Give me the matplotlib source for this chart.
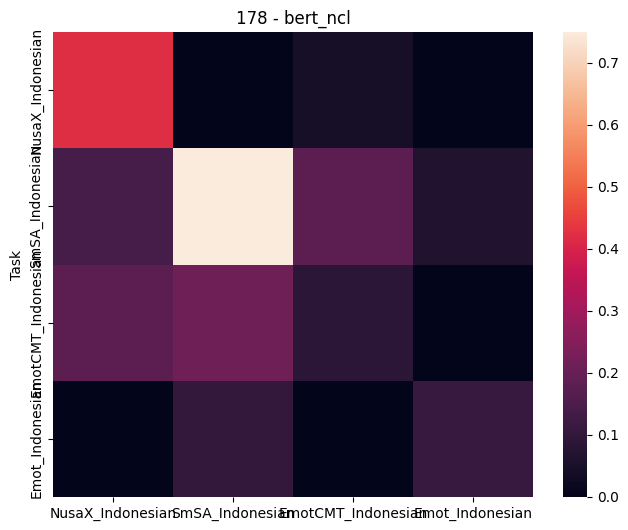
import matplotlib
matplotlib.use("Agg")
import matplotlib.pyplot as plt
import seaborn as sns
import numpy as np
import pandas as pd

tasks = ["NusaX_Indonesian", "SmSA_Indonesian", "EmotCMT_Indonesian", "Emot_Indonesian"]
row_nusax = [0.42, 0.00, 0.045, 0.00]
row_smsa = [0.14, 0.75, 0.18, 0.065]
row_emotcmt = [0.18, 0.21, 0.085, 0.00]
row_emot = [0.00, 0.10, 0.00, 0.11]

df = pd.DataFrame([row_nusax, row_smsa, row_emotcmt, row_emot], index=tasks, columns=tasks)
df.index.name = "Task"

fig = plt.figure(figsize=(6.28, 5.30), dpi=100)
ax = fig.add_axes([53/628, 33/530, 480/628, 465/530])
cax = fig.add_axes([563/628, 33/530, 24/628, 465/530])
sns.heatmap(df, ax=ax, cbar_ax=cax, vmin=0, vmax=0.75)
ax.set_title("178 - bert_ncl")
ax.set_ylabel("Task")
ax.set_xlabel("")
plt.setp(ax.get_xticklabels(), rotation=0, ha="center")
plt.setp(ax.get_yticklabels(), rotation=90)
fig.savefig("out.png", dpi=100)
